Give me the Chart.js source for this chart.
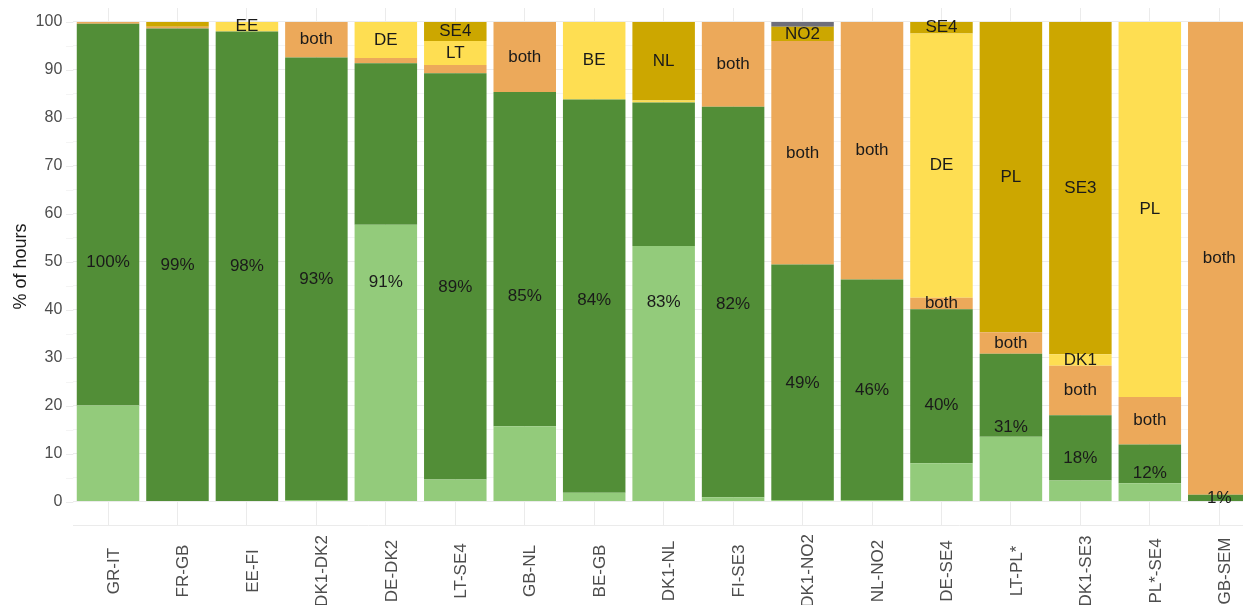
<!DOCTYPE html>
<html>
<head>
<meta charset="utf-8">
<script src="https://cdn.jsdelivr.net/npm/chart.js@4.4.1/dist/chart.umd.min.js"></script>
<style>
html,body{margin:0;padding:0;background:#fff;overflow:hidden;width:1243px;height:605px}
canvas{display:block}
</style>
</head>
<body>
<canvas id="c" width="1254" height="605"></canvas>
<script>
const categories = ["GR-IT","FR-GB","EE-FI","DK1-DK2","DE-DK2","LT-SE4","GB-NL","BE-GB","DK1-NL","FI-SE3","DK1-NO2","NL-NO2","DE-SE4","LT-PL*","DK1-SE3","PL*-SE4","GB-SEM"];
const lightGreen    = [20.0, 0,    0,    0.3,  57.7, 4.6,  15.7, 1.8,  53.3, 0.9,  0.3,  0.3,  8.0,  13.5, 4.4,  3.8,  0];
const darkGreen     = [79.6, 98.6, 98.0, 92.3, 33.7, 84.7, 69.7, 82.0, 29.9, 81.4, 49.1, 46.0, 32.1, 17.3, 13.6, 8.1,  1.4];
const both          = [0.4,  0.4,  0,    7.4,  1.1,  1.7,  14.6, 0,    0,    17.7, 46.6, 53.7, 2.4,  4.5,  10.3, 9.9,  98.6];
const firstCountry  = [0,    0,    2.0,  0,    7.5,  5.0,  0,    16.2, 0.4,  0,    0,    0,    55.1, 0,    2.4,  78.2, 0];
const secondCountry = [0,    1.0,  0,    0,    0,    4.0,  0,    0,    16.4, 0,    3.0,  0,    2.4,  64.7, 69.3, 0,    0];
const other         = [0,    0,    0,    0,    0,    0,    0,    0,    0,    0,    1.0,  0,    0,    0,    0,    0,    0];

const pctLabels   = ["100%","99%","98%","93%","91%","89%","85%","84%","83%","82%","49%","46%","40%","31%","18%","12%","1%"];
const bothText    = ["","","","both","","","both","","","both","both","both","both","both","both","both","both"];
const firstText   = ["","","EE","","DE","LT","","BE","","","","","DE","","DK1","PL",""];
const secondText  = ["","","","","","SE4","","","NL","","NO2","","SE4","PL","SE3","",""];
const yTickValues = [0,5,10,15,20,25,30,35,40,45,50,55,60,65,70,75,80,85,90,95,100];

const FONT = "'Liberation Sans', Arial, sans-serif";

const labelPlugin = {
  id: 'segLabels',
  beforeDatasetsDraw(chart) {
    const ctx = chart.ctx, ys = chart.scales.y, area = chart.chartArea;
    ctx.save();
    ctx.lineWidth = 1;
    ys.ticks.forEach(t => {
      const py = Math.round(ys.getPixelForValue(t.value)) + 0.5;
      ctx.strokeStyle = t.value % 10 === 0 ? '#EBEBEB' : '#F4F4F4';
      ctx.beginPath(); ctx.moveTo(66, py); ctx.lineTo(area.left, py); ctx.stroke();
    });
    ctx.restore();
  },
  afterDatasetsDraw(chart) {
    const ctx = chart.ctx, ys = chart.scales.y, xs = chart.scales.x;
    ctx.save();
    ctx.font = "17px " + FONT;
    ctx.fillStyle = '#1a1a1a';
    ctx.textAlign = 'center';
    ctx.textBaseline = 'middle';
    const sets = [null, null, bothText, firstText, secondText, null];
    sets.forEach((arr, di) => {
      if (!arr) return;
      chart.getDatasetMeta(di).data.forEach((bar, j) => {
        if (arr[j]) ctx.fillText(arr[j], bar.x, (bar.y + bar.base) / 2);
      });
    });
    categories.forEach((c, j) => {
      const v = (lightGreen[j] + darkGreen[j]) / 2;
      ctx.fillText(pctLabels[j], xs.getPixelForValue(j), ys.getPixelForValue(v));
    });
    ctx.restore();
  },
  afterDraw(chart) {
    const ctx = chart.ctx, xs = chart.scales.x;
    ctx.save();
    ctx.font = "17px " + FONT;
    ctx.fillStyle = '#4D4D4D';
    ctx.textAlign = 'center';
    ctx.textBaseline = 'middle';
    categories.forEach((c, j) => {
      ctx.save();
      ctx.translate(xs.getPixelForValue(j) + 6, 571);
      ctx.rotate(-Math.PI / 2);
      ctx.fillText(c, 0, 0);
      ctx.restore();
    });
    ctx.restore();
  }
};

const mk = (label, data, color) => ({
  label, data, backgroundColor: color, borderWidth: 0,
  barPercentage: 0.9, categoryPercentage: 1.0
});

new Chart(document.getElementById('c'), {
  type: 'bar',
  data: {
    labels: categories,
    datasets: [
      mk('light green', lightGreen, '#93CB7B'),
      mk('dark green', darkGreen, '#528E37'),
      mk('both', both, '#ECA95A'),
      mk('first', firstCountry, '#FEDE52'),
      mk('second', secondCountry, '#CCA700'),
      mk('other', other, '#6E6E7A')
    ]
  },
  options: {
    responsive: false,
    devicePixelRatio: 1,
    animation: false,
    layout: { padding: { top: 8, left: 0, right: 0, bottom: 0 } },
    plugins: { legend: { display: false }, tooltip: { enabled: false } },
    scales: {
      x: {
        stacked: true,
        ticks: { display: false },
        grid: { color: '#EBEBEB', offset: false, drawTicks: false },
        border: { display: true, color: '#EBEBEB' },
        afterFit(s) { s.height = 80; s.paddingLeft = 0; s.paddingRight = 0; }
      },
      y: {
        stacked: true,
        min: -4.9,
        max: 102.9,
        afterBuildTicks(s) { s.ticks = yTickValues.map(v => ({ value: v })); },
        ticks: {
          callback: v => (v % 10 === 0 ? String(v) : ''),
          font: { family: FONT, size: 16 },
          color: '#4D4D4D',
          padding: 11
        },
        grid: {
          color: c => (c.tick && c.tick.value % 10 === 0 ? '#EBEBEB' : '#F4F4F4'),
          drawTicks: false
        },
        border: { display: false },
        title: {
          display: true,
          text: '% of hours',
          font: { family: FONT, size: 18 },
          color: '#1a1a1a',
          padding: { top: 10, bottom: 0 }
        },
        afterFit(s) { s.width = 73.3; s.paddingTop = 0; s.paddingBottom = 0; }
      }
    }
  },
  plugins: [labelPlugin]
});
</script>
</body>
</html>
